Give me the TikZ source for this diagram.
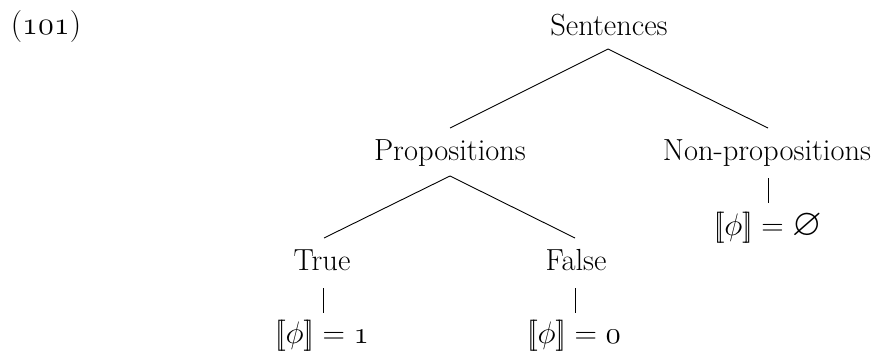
\documentclass[tikz,border=0pt]{standalone}
\usepackage{graphicx}
\usepackage{amssymb}
\begin{document}
\begin{tikzpicture}[x=1pt,y=-1pt,
  lbl/.style={anchor=base,inner sep=0pt,font=\fontsize{30.5}{36}\selectfont},
  val/.style={anchor=base,inner sep=0pt,font=\fontsize{30.5}{36}\selectfont},
  edge/.style={line width=0.9pt}]
\useasboundingbox (0,0) rectangle (885,356);
\newcommand{\den}{\ensuremath{[\![\phi]\!]}}
\newcommand{\bigval}[1]{\scalebox{1.25}{#1}}
\node[lbl,font=\fontsize{32}{38}\selectfont] (ex) at (46,34) {(\scalebox{1.3}{$\mathnormal{101}$})};
\node[lbl] (S) at (609,35) {Sentences};
\node[lbl] (P) at (450,160) {Propositions};
\node[lbl] (N) at (767,160) {Non-propositions};
\node[lbl] (T) at (322,270) {True};
\node[lbl] (F) at (576,270) {False};
\node[val] (Tv) at (322,343) {\bigval{$\den = \mathnormal{1}$}};
\node[val] (Fv) at (574,343) {\bigval{$\den = \mathnormal{0}$}};
\node[val] (Nv) at (768,235) {\bigval{$\den = \varnothing$}};
\draw[edge] ([xshift=-1pt,yshift=-14pt]S.base) -- ([yshift=32pt]P.base);
\draw[edge] ([xshift=-1pt,yshift=-14pt]S.base) -- ([xshift=1pt,yshift=32pt]N.base);
\draw[edge] ([yshift=-16pt]P.base) -- ([xshift=2pt,yshift=32pt]T.base);
\draw[edge] ([yshift=-16pt]P.base) -- ([xshift=-1pt,yshift=32pt]F.base);
\draw[edge] ([xshift=1pt,yshift=-18pt]T.base) -- ([xshift=1pt,yshift=30pt]Tv.base);
\draw[edge] ([xshift=-1pt,yshift=-18pt]F.base) -- ([xshift=1pt,yshift=30pt]Fv.base);
\draw[edge] ([xshift=1pt,yshift=-18pt]N.base) -- ([yshift=32pt]Nv.base);
\end{tikzpicture}
\end{document}
